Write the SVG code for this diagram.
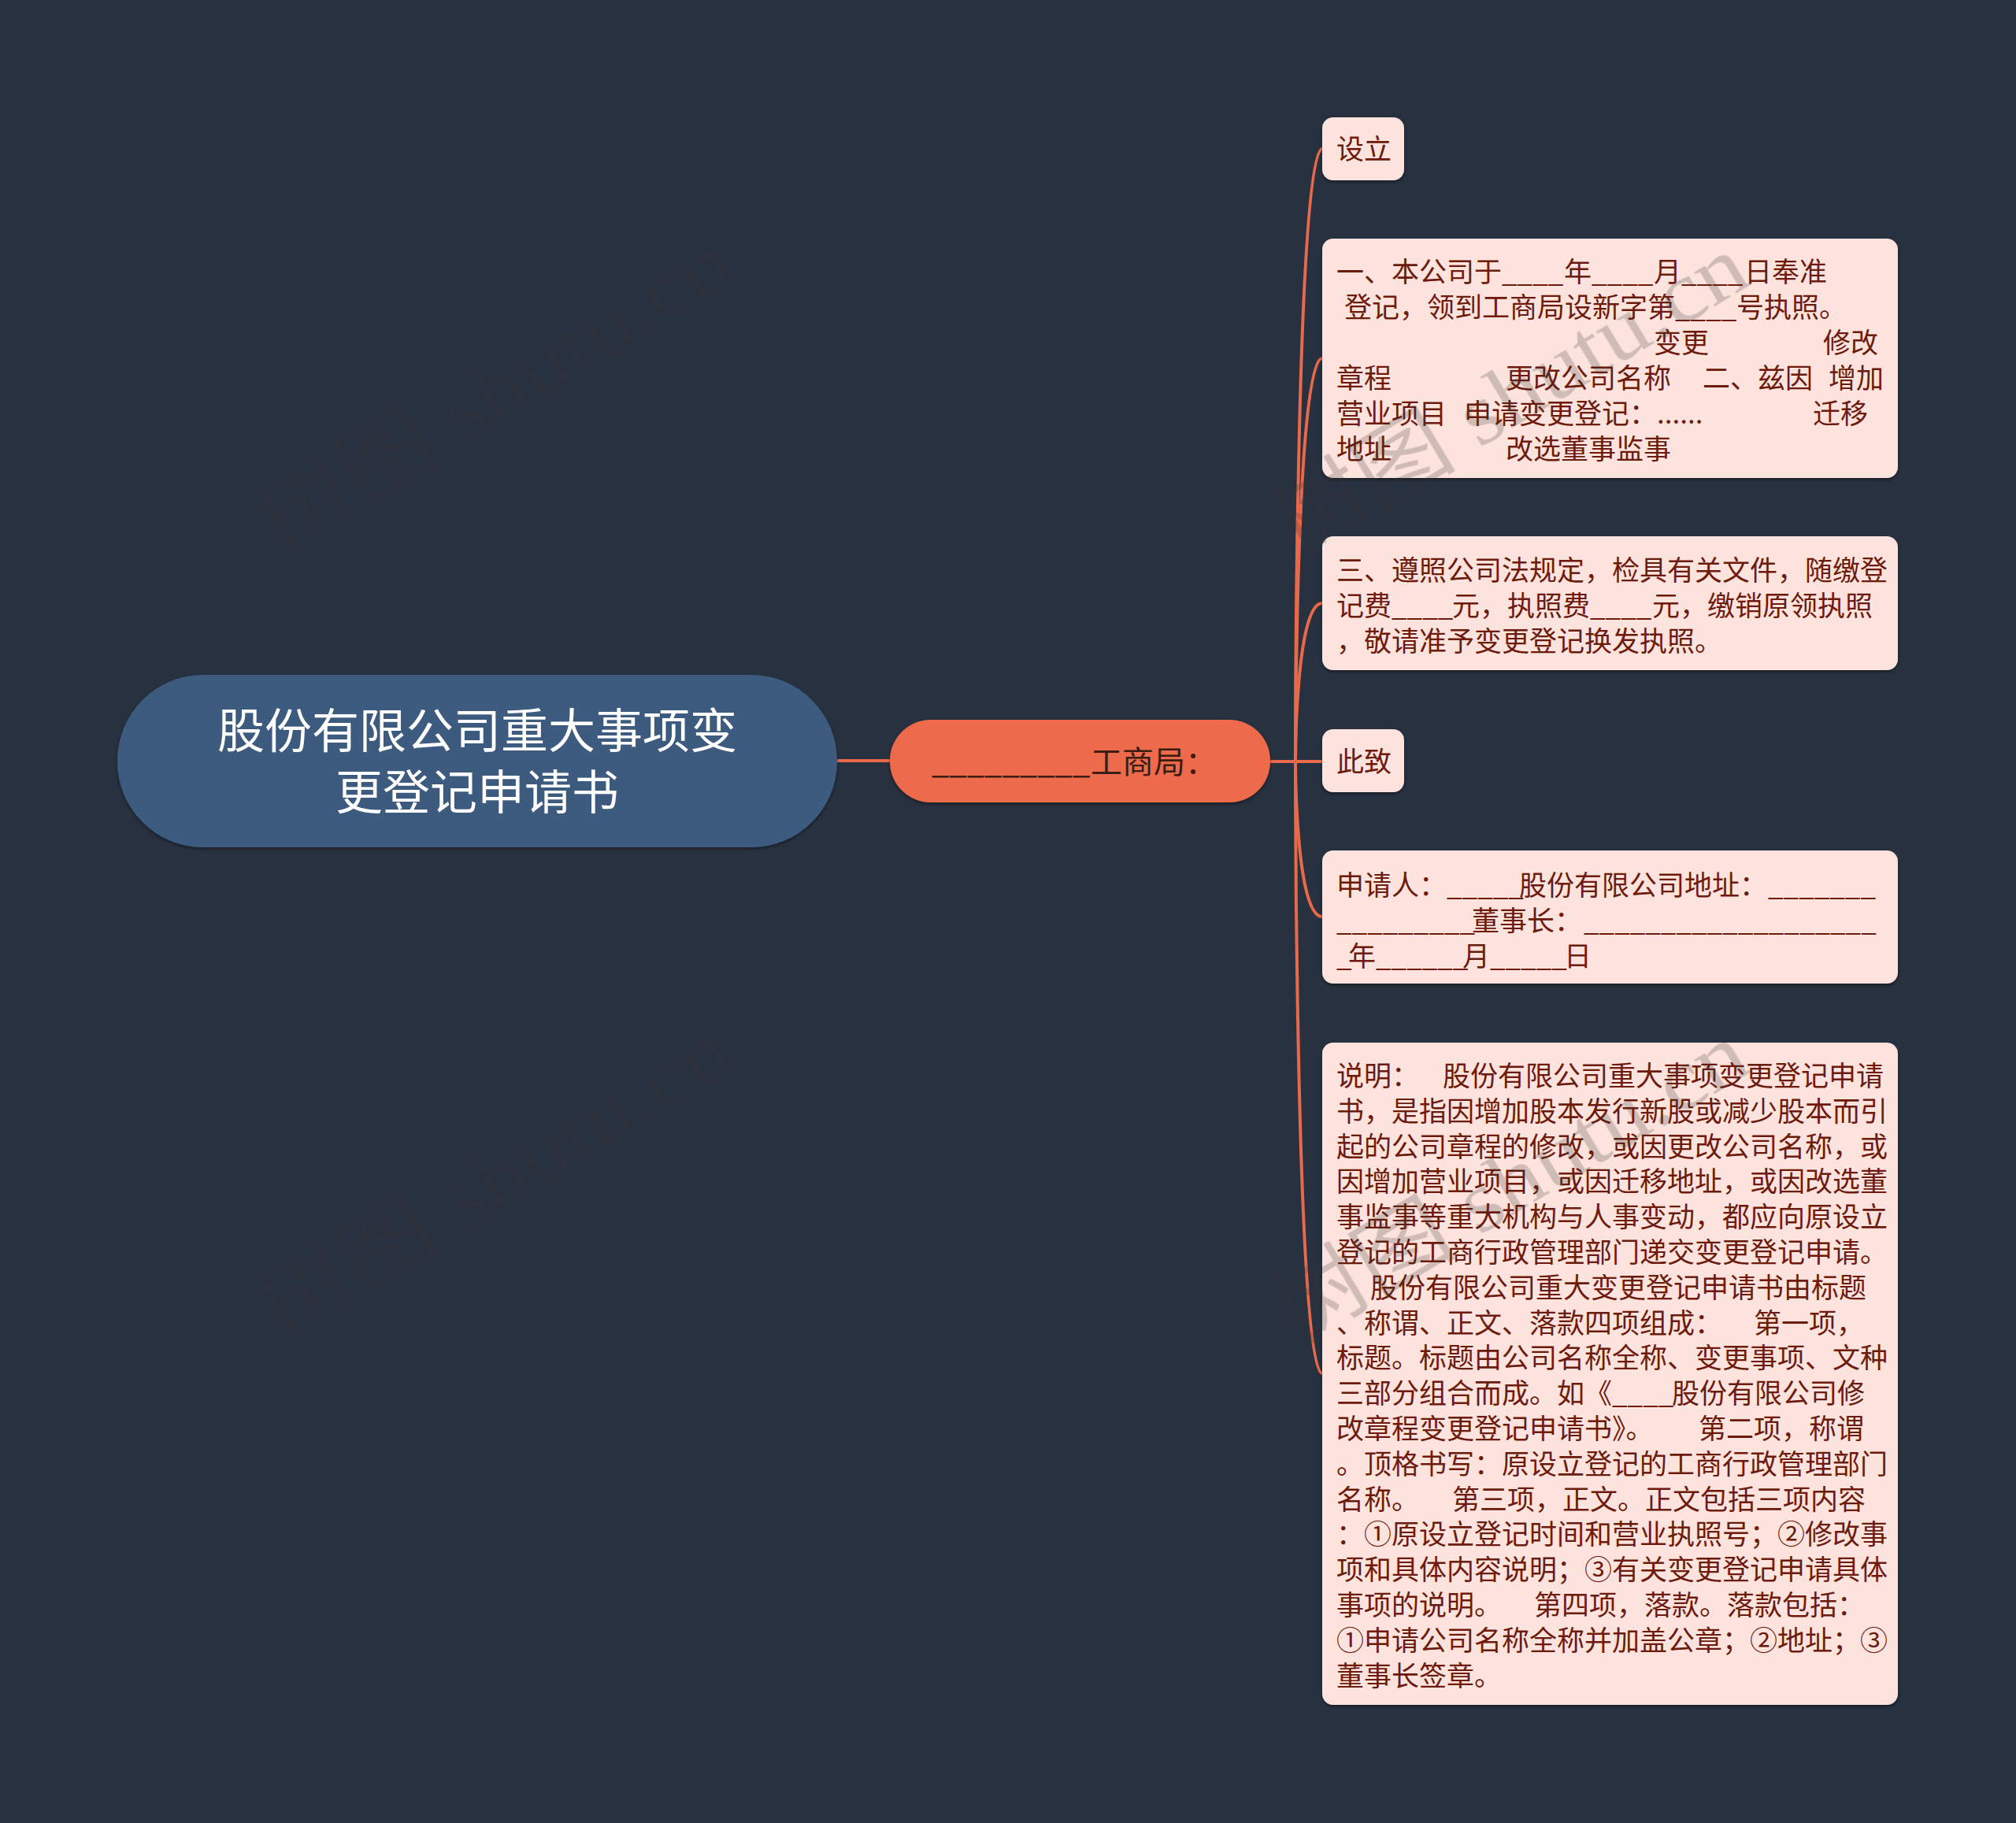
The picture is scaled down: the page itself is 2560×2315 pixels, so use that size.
<svg xmlns="http://www.w3.org/2000/svg" width="2560" height="2315" viewBox="0 0 2560 2315">
<defs>
<filter id="sh" x="-10%" y="-10%" width="120%" height="130%">
<feDropShadow dx="0" dy="2" stdDeviation="2" flood-color="#000" flood-opacity="0.45"/>
</filter>
<style>
.cjk{font-family:"Noto Sans CJK SC","Noto Sans",sans-serif;}
.leaf rect{fill:#fce3dd;}
.leaf text{font-size:35px;fill:#6e1a0c;}
.con path{fill:none;stroke:#e8694b;stroke-width:4;}
.wm{font-family:"Liberation Serif","Noto Sans CJK SC",serif;font-size:110px;fill:#3a3333;opacity:0.22;}
</style>
</defs>
<rect x="0" y="0" width="2560" height="2315" fill="#283140"/>

<g id="connectors" class="con">
<path d="M1063 966 L1130 966"/>
<path d="M1613 967 L1645 967 C1645 967 1645 189 1679 189"/>
<path d="M1613 967 L1645 967 C1645 967 1645 455 1679 455"/>
<path d="M1613 967 L1645 967 C1645 967 1645 766 1679 766"/>
<path d="M1613 967 L1679 967"/>
<path d="M1613 967 L1645 967 C1645 967 1645 1164 1679 1164"/>
<path d="M1613 967 L1645 967 C1645 967 1645 1744 1679 1744"/>
</g>

<g id="root" class="cjk">
<rect x="149" y="857" width="914" height="219" rx="109" ry="109" fill="#3d5a7f" filter="url(#sh)"/>
<text x="606" y="950" font-size="60" fill="#ffffff" text-anchor="middle">股份有限公司重大事项变</text>
<text x="606" y="1028" font-size="60" fill="#ffffff" text-anchor="middle">更登记申请书</text>
</g>

<g id="sub" class="cjk">
<rect x="1130" y="914" width="483" height="105" rx="52" ry="52" fill="#ed6b4b" filter="url(#sh)"/>
<text y="982" font-size="40" fill="#3d1c12"><tspan x="1183">_________</tspan><tspan x="1385">工商局：</tspan></text>
</g>

<g id="n1" class="leaf cjk">
<rect x="1679" y="149" width="104" height="80" rx="14" filter="url(#sh)"/>
<text x="1697" y="202">设立</text>
</g>

<g id="n2" class="leaf cjk">
<rect x="1679" y="303" width="731" height="304" rx="14" filter="url(#sh)"/>
<text y="358"><tspan x="1697">一、本公司于____</tspan><tspan x="1986">年____</tspan><tspan x="2100">月____</tspan><tspan x="2215">日奉准</tspan></text>
<text y="403"><tspan x="1707">登记，领到工商局设新字第____</tspan><tspan x="2205">号执照。</tspan></text>
<text y="448"><tspan x="2100">变更</tspan><tspan x="2315">修改</tspan></text>
<text y="493"><tspan x="1697">章程</tspan><tspan x="1912">更改公司名称</tspan><tspan x="2162">二、兹因</tspan><tspan x="2322">增加</tspan></text>
<text y="538"><tspan x="1697">营业项目</tspan><tspan x="1859">申请变更登记：......</tspan><tspan x="2302">迁移</tspan></text>
<text y="583"><tspan x="1697">地址</tspan><tspan x="1912">改选董事监事</tspan></text>
</g>

<g id="n3" class="leaf cjk">
<rect x="1679" y="681" width="731" height="170" rx="14" filter="url(#sh)"/>
<text y="737"><tspan x="1697">三、遵照公司法规定，检具有关文件，随缴登</tspan></text>
<text y="782"><tspan x="1697">记费____</tspan><tspan x="1844">元，执照费____</tspan><tspan x="2098">元，缴销原领执照</tspan></text>
<text y="827"><tspan x="1697">，敬请准予变更登记换发执照。</tspan></text>
</g>

<g id="n4" class="leaf cjk">
<rect x="1679" y="926" width="104" height="80" rx="14" filter="url(#sh)"/>
<text x="1697" y="980">此致</text>
</g>

<g id="n5" class="leaf cjk">
<rect x="1679" y="1080" width="731" height="169" rx="14" filter="url(#sh)"/>
<text y="1137"><tspan x="1697">申请人：</tspan><tspan x="1837">_____</tspan><tspan x="1929">股份有限公司地址：</tspan><tspan x="2245">_______</tspan></text>
<text y="1182"><tspan x="1697">_________</tspan><tspan x="1869">董事长：</tspan><tspan x="2011">___________________</tspan></text>
<text y="1227"><tspan x="1697">_</tspan><tspan x="1712">年______</tspan><tspan x="1857">月_____</tspan><tspan x="1986">日</tspan></text>
</g>

<g id="n6" class="leaf cjk">
<rect x="1679" y="1324" width="731" height="841" rx="14" filter="url(#sh)"/>
<text y="1379"><tspan x="1697">说明：</tspan><tspan x="1832">股份有限公司重大事项变更登记申请</tspan></text>
<text x="1697" y="1423.8">书，是指因增加股本发行新股或减少股本而引</text>
<text x="1697" y="1468.6">起的公司章程的修改，或因更改公司名称，或</text>
<text x="1697" y="1513.4">因增加营业项目，或因迁移地址，或因改选董</text>
<text x="1697" y="1558.2">事监事等重大机构与人事变动，都应向原设立</text>
<text x="1697" y="1603">登记的工商行政管理部门递交变更登记申请。</text>
<text x="1740" y="1647.8">股份有限公司重大变更登记申请书由标题</text>
<text y="1692.6"><tspan x="1697">、称谓、正文、落款四项组成：</tspan><tspan x="2227">第一项，</tspan></text>
<text x="1697" y="1737.4">标题。标题由公司名称全称、变更事项、文种</text>
<text y="1782.2"><tspan x="1697">三部分组合而成。如《____</tspan><tspan x="2123">股份有限公司修</tspan></text>
<text y="1827"><tspan x="1697">改章程变更登记申请书》。</tspan><tspan x="2157">第二项，称谓</tspan></text>
<text x="1697" y="1871.8">。顶格书写：原设立登记的工商行政管理部门</text>
<text y="1916.6"><tspan x="1697">名称。</tspan><tspan x="1844">第三项，正文。正文包括三项内容</tspan></text>
<text x="1697" y="1961.4">：①原设立登记时间和营业执照号；②修改事</text>
<text x="1697" y="2006.2">项和具体内容说明；③有关变更登记申请具体</text>
<text y="2051"><tspan x="1697">事项的说明。</tspan><tspan x="1948">第四项，落款。落款包括：</tspan></text>
<text x="1697" y="2095.8">①申请公司名称全称并加盖公章；②地址；③</text>
<text x="1697" y="2140.6">董事长签章。</text>
</g>

<g id="watermarks" class="wm">
<text x="354" y="705" transform="rotate(-31 354 705)" textLength="680" lengthAdjust="spacingAndGlyphs">树图 shutu.cn</text>
<text x="354" y="1705" transform="rotate(-31 354 1705)" textLength="680" lengthAdjust="spacingAndGlyphs">树图 shutu.cn</text>
<text x="1644" y="710" transform="rotate(-31 1644 710)" textLength="680" lengthAdjust="spacingAndGlyphs">树图 shutu.cn</text>
<text x="1644" y="1710" transform="rotate(-31 1644 1710)" textLength="680" lengthAdjust="spacingAndGlyphs">树图 shutu.cn</text>
</g>
</svg>
